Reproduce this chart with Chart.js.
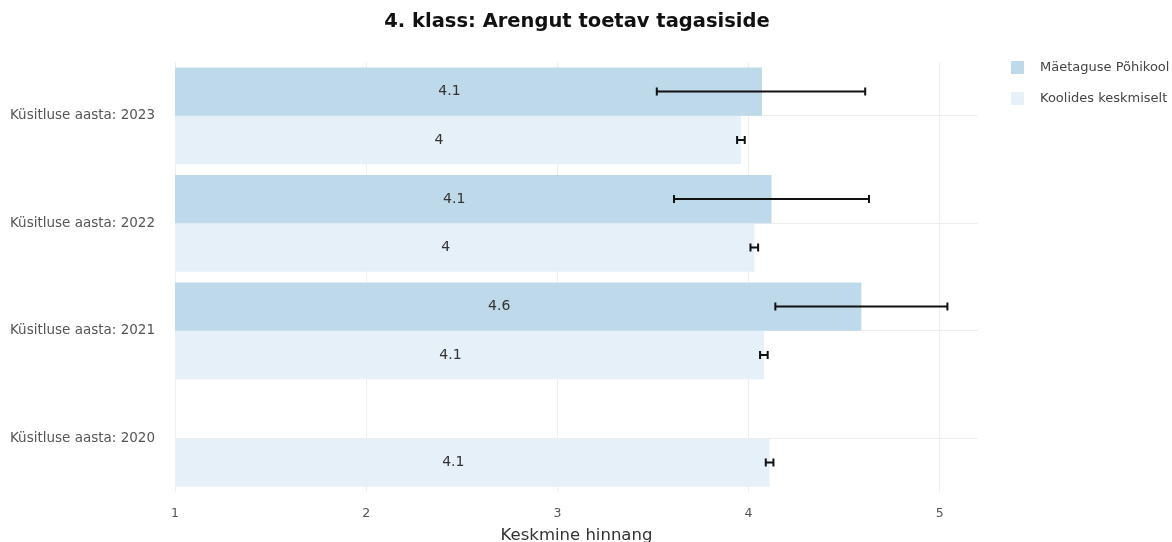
<!DOCTYPE html>
<html>
<head>
<meta charset="utf-8">
<script src="https://cdn.jsdelivr.net/npm/chart.js@4"></script>
<style>
  html, body { margin: 0; padding: 0; background: #fff; overflow: hidden; }
  #wrap { position: relative; width: 1172px; height: 542px; }
  #title {
    position: absolute; left: 0; width: 1154px; top: 9px;
    text-align: center; font: bold 19.5px "DejaVu Sans", sans-serif; color: #111;
  }
  #legend {
    position: absolute; left: 1011px; top: 59px;
    font: 13px "DejaVu Sans", sans-serif; color: #444; white-space: nowrap;
  }
  .item { height: 31px; display: flex; align-items: flex-start; }
  .sw { width: 13px; height: 13px; margin-right: 16px; margin-top: 2px; }
</style>
</head>
<body>
<div id="wrap">
  <canvas id="chart" width="1172" height="542"></canvas>
  <div id="title">4. klass: Arengut toetav tagasiside</div>
  <div id="legend"></div>
</div>
<script>
const categories = ['Küsitluse aasta: 2023', 'Küsitluse aasta: 2022', 'Küsitluse aasta: 2021', 'Küsitluse aasta: 2020'];
const seriesNames = ['Mäetaguse Põhikool', 'Koolides keskmiselt'];
const seriesColors = ['#bed9ea', '#e6f0f9'];

const schoolValues = [4.07, 4.12, 4.59, null];
const schoolLow = [3.52, 3.61, 4.14, null];
const schoolHigh = [4.61, 4.63, 5.04, null];

const avgValues = [3.96, 4.03, 4.08, 4.11];
const avgLow = [3.94, 4.01, 4.06, 4.09];
const avgHigh = [3.98, 4.05, 4.10, 4.13];

const xTicks = [1, 2, 3, 4, 5];

// legend in html, so it can run off the right edge like the original
const legendEl = document.getElementById('legend');
seriesNames.forEach((name, i) => {
    legendEl.innerHTML += `<div class="item"><div class="sw" style="background:${seriesColors[i]}"></div>${name}</div>`;
});

const errorBars = {
    id: 'errorBars',
    afterDatasetsDraw(chart) {
        const ctx = chart.ctx;
        const xs = chart.scales.x;
        ctx.save();
        ctx.strokeStyle = '#111';
        ctx.lineWidth = 2;
        chart.data.datasets.forEach((ds, di) => {
            const meta = chart.getDatasetMeta(di);
            meta.data.forEach((bar, i) => {
                if (ds.data[i] == null) return;
                const x1 = xs.getPixelForValue(ds.errLow[i]);
                const x2 = xs.getPixelForValue(ds.errHigh[i]);
                const y = bar.y;
                ctx.beginPath();
                ctx.moveTo(x1, y); ctx.lineTo(x2, y);
                ctx.moveTo(x1, y - 4); ctx.lineTo(x1, y + 4);
                ctx.moveTo(x2, y - 4); ctx.lineTo(x2, y + 4);
                ctx.stroke();
            });
        });
        ctx.restore();
    }
};

const barLabels = {
    id: 'barLabels',
    afterDatasetsDraw(chart) {
        const ctx = chart.ctx;
        const left = chart.chartArea.left;
        ctx.save();
        ctx.font = '14px "DejaVu Sans", sans-serif';
        ctx.fillStyle = '#333';
        ctx.textAlign = 'center';
        ctx.textBaseline = 'middle';
        chart.data.datasets.forEach((ds, di) => {
            chart.getDatasetMeta(di).data.forEach((bar, i) => {
                const v = ds.data[i];
                if (v == null) return;
                const cx = (Math.max(bar.base, left) + bar.x) / 2 - 19;
                ctx.fillText(String(Math.round(v * 10) / 10), cx, bar.y);
            });
        });
        ctx.restore();
    }
};

new Chart(document.getElementById('chart'), {
    type: 'bar',
    data: {
        labels: categories,
        datasets: [
            { label: seriesNames[0], data: schoolValues, errLow: schoolLow, errHigh: schoolHigh,
              backgroundColor: seriesColors[0], categoryPercentage: 0.9, barPercentage: 1.0 },
            { label: seriesNames[1], data: avgValues, errLow: avgLow, errHigh: avgHigh,
              backgroundColor: seriesColors[1], categoryPercentage: 0.9, barPercentage: 1.0 }
        ]
    },
    options: {
        indexAxis: 'y',
        responsive: false,
        animation: false,
        layout: { padding: { top: 62, right: 194, left: 0, bottom: 0 } },
        plugins: {
            legend: { display: false },
            tooltip: { enabled: false }
        },
        scales: {
            x: {
                min: 1, max: 5.2,
                afterBuildTicks: (scale) => { scale.ticks = xTicks.map(v => ({ value: v })); },
                grid: { color: '#eeeeee', drawTicks: false },
                border: { display: false },
                ticks: { color: '#555', font: { size: 12.5, family: 'DejaVu Sans' }, padding: 14 },
                title: { display: true, text: 'Keskmine hinnang', color: '#333',
                         font: { size: 16.5, family: 'DejaVu Sans' }, padding: { top: 4, bottom: -4 } },
                afterFit: (scale) => { scale.height = 50; }
            },
            y: {
                grid: { color: '#eeeeee', offset: false, drawTicks: false },
                border: { display: false },
                ticks: { color: '#555', font: { size: 13.5, family: 'DejaVu Sans' }, padding: 20 },
                afterFit: (scale) => { scale.width = 175; }
            }
        }
    },
    plugins: [errorBars, barLabels]
});
</script>
</body>
</html>
